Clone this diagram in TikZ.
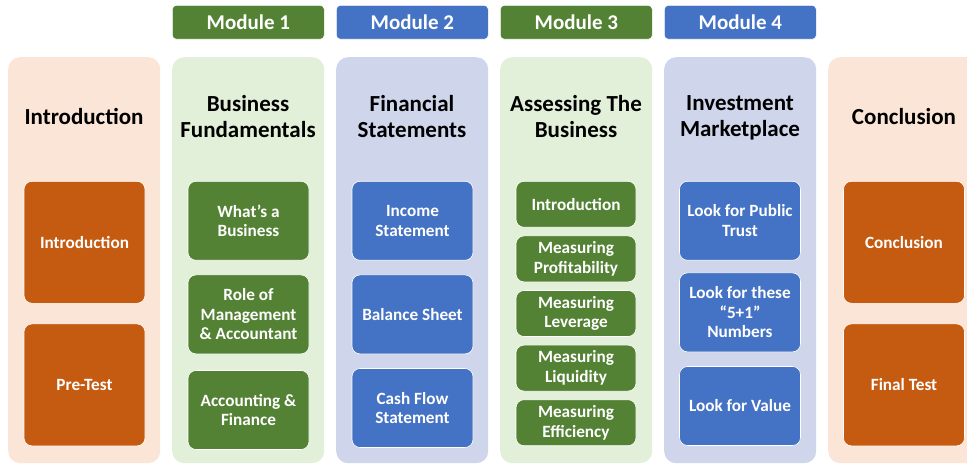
\documentclass[tikz,border=0pt]{standalone}
\usepackage{fontspec}
\setmainfont{Carlito}
\usetikzlibrary{positioning}
\definecolor{introbg}{RGB}{251,229,214}
\definecolor{introbox}{RGB}{197,90,17}
\definecolor{greenbg}{RGB}{226,240,217}
\definecolor{greenbox}{RGB}{84,130,53}
\definecolor{bluebg}{RGB}{207,213,234}
\definecolor{bluebox}{RGB}{68,114,196}

\begin{document}
\begin{tikzpicture}[
  x=1pt, y=-1pt,
  panel/.style={rounded corners=12pt, minimum width=152pt, minimum height=406pt,
                anchor=north west, inner sep=0pt},
  head/.style={align=center, font=\fontsize{23}{26}\selectfont\bfseries},
  module/.style={rounded corners=4pt, minimum width=152pt, minimum height=34pt,
                 anchor=north west, text=white, draw=white, line width=0.6pt,
                 font=\fontsize{21}{24}\selectfont\bfseries},
  item/.style={rounded corners=8pt, minimum width=121pt, align=center, text=white,
               draw=white, line width=0.6pt, anchor=north, inner sep=1pt,
               font=\fontsize{17.2}{19.6}\selectfont\bfseries},
  introitem/.style={item, fill=introbox, minimum height=122pt},
  greenitem/.style={item, fill=greenbox, minimum height=79pt},
  blueitem/.style={item, fill=bluebox, minimum height=79pt},
  node distance=14pt
]
\useasboundingbox (0,0) rectangle (967,465);

% Module tabs
\node[module, fill=greenbox] (mod1) at (172,5) {Module 1};
\node[module, fill=bluebox] (mod2) at (336,5) {Module 2};
\node[module, fill=greenbox] (mod3) at (500,5) {Module 3};
\node[module, fill=bluebox] (mod4) at (664,5) {Module 4};

% Panels
\node[panel, fill=introbg] (p1) at (8,57) {};
\node[panel, fill=greenbg] (p2) at (172,57) {};
\node[panel, fill=bluebg] (p3) at (336,57) {};
\node[panel, fill=greenbg] (p4) at (500,57) {};
\node[panel, fill=bluebg] (p5) at (664,57) {};
\node[panel, fill=introbg] (p6) at (828,57) {};

% Panel titles
\node[head] (h1) at (84,117) {Introduction};
\node[head] (h2) at (248,117) {Business\\Fundamentals};
\node[head] (h3) at (412,117) {Financial\\Statements};
\node[head] (h4) at (576,117) {Assessing The\\Business};
\node[head] (h5) at (740,118) {Investment\\Marketplace};
\node[head] (h6) at (904,117) {Conclusion};

% Introduction
\node[introitem] (intro) at (84.5,181) {Introduction};
\node[introitem, below=20pt of intro] (pretest) {Pre-Test};

% Business Fundamentals
\node[greenitem] (whats) at (248.5,181) {What's a\\Business};
\node[greenitem, below=of whats] (role) {Role of\\Management\\\& Accountant};
\node[greenitem, below=16pt of role] (accfin) {Accounting \&\\Finance};

% Financial Statements
\node[blueitem] (income) at (412.5,181) {Income\\Statement};
\node[blueitem, below=of income] (balance) {Balance Sheet};
\node[blueitem, below=of balance] (cashflow) {Cash Flow\\Statement};

% Assessing The Business
\node[greenitem, minimum width=120pt, minimum height=46pt] (aintro) at (576,181) {Introduction};
\node[greenitem, minimum width=120pt, minimum height=46pt, below=8pt of aintro] (profit) {Measuring\\Profitability};
\node[greenitem, minimum width=120pt, minimum height=46pt, below=8pt of profit] (lever) {Measuring\\Leverage};
\node[greenitem, minimum width=120pt, minimum height=46pt, below=8pt of lever] (liquid) {Measuring\\Liquidity};
\node[greenitem, minimum width=120pt, minimum height=46pt, below=8pt of liquid] (effic) {Measuring\\Efficiency};

% Investment Marketplace
\node[blueitem] (trust) at (740,181) {Look for Public\\Trust};
\node[blueitem, below=12pt of trust] (numbers) {Look for these\\``5+1''\\Numbers};
\node[blueitem, below=of numbers] (value) {Look for Value};

% Conclusion
\node[introitem] (concl) at (904,181) {Conclusion};
\node[introitem, below=20pt of concl] (final) {Final Test};

\end{tikzpicture}
\end{document}
